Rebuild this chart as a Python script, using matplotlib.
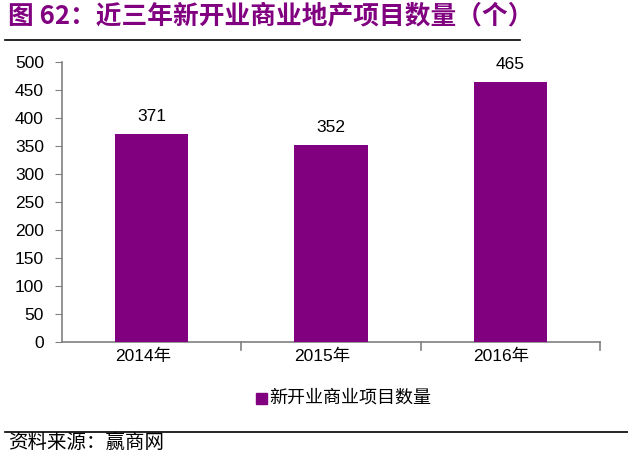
import matplotlib
matplotlib.use("Agg")
import matplotlib.pyplot as plt
from matplotlib.lines import Line2D

plt.rcParams['font.family'] = ['Liberation Sans', 'Noto Sans CJK SC', 'DejaVu Sans']

categories = ['2014年', '2015年', '2016年']
values = [371, 352, 465]
yticks = [0, 50, 100, 150, 200, 250, 300, 350, 400, 450, 500]
series_name = '新开业商业项目数量'
title = '图 62：近三年新开业商业地产项目数量（个）'
source = '资料来源：赢商网'

purple = '#800080'
W, H = 628, 453
fig = plt.figure(figsize=(W/100, H/100), dpi=100)

ax = fig.add_axes([62/W, 1-342/H, (600-62)/W, (342-62)/H])
x = list(range(len(categories)))
ax.bar(x, values, width=0.41, color=purple, zorder=3)
ax.set_xlim(-0.5, len(categories)-0.5)
ax.set_ylim(0, 500)
ax.set_yticks(yticks)
ax.tick_params(axis='y', direction='out', length=5, color='#808080', labelsize=12.5, pad=8)
ax.set_xticks([])
for s in ['top', 'right']:
    ax.spines[s].set_visible(False)
for s in ['left', 'bottom']:
    ax.spines[s].set_color('#808080')
    ax.spines[s].set_linewidth(1.2)
for b in [0.5, 1.5, 2.5]:
    ax.plot([b, b], [0, -15], color='#808080', lw=1.2, clip_on=False)
for i, c in enumerate(categories):
    ax.text(i - 0.05, -12, c, ha='center', va='top', fontsize=12.5,
            family=['Liberation Sans', 'Noto Sans CJK SC'])
for i, v in enumerate(values):
    ax.text(i, v + 18, str(v), ha='center', va='bottom', fontsize=12.5)

fig.patches.append(plt.Rectangle((256/W, 1-404/H), 11/W, 11/H, color=purple,
                                 transform=fig.transFigure))
fig.text(269/W, 1-398/H, series_name, ha='left', va='center', fontsize=13,
         family=['Noto Sans CJK SC'])

fig.text(8/W, 1-16/H, title, ha='left', va='center', fontsize=18.5, fontweight='bold',
         color=purple, family=['Noto Sans CJK SC', 'DejaVu Sans'])
fig.add_artist(Line2D([5/W, 520/W], [1-40/H, 1-40/H], color='black', lw=1.2,
                      transform=fig.transFigure))
fig.add_artist(Line2D([5/W, 1], [1-432/H, 1-432/H], color='black', lw=1.2,
                      transform=fig.transFigure))
fig.text(8/W, 1-442/H, source, ha='left', va='center', fontsize=14,
         family=['Noto Sans CJK SC'])

fig.savefig('out.png', dpi=100)
